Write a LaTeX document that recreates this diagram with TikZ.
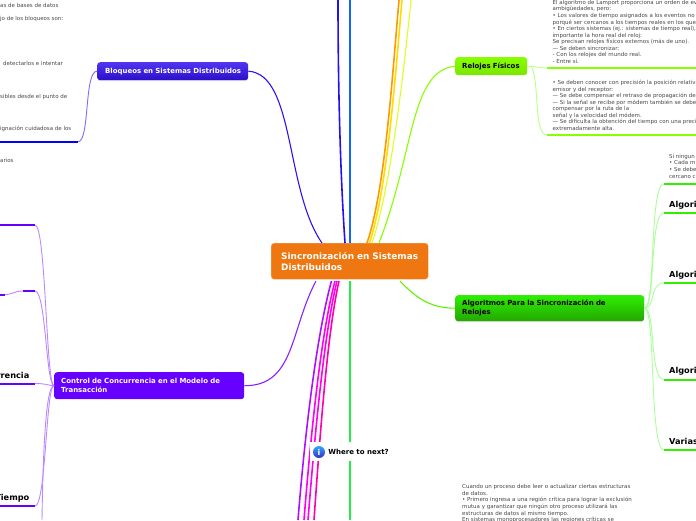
\documentclass[tikz,border=0pt]{standalone}
\usepackage{fontspec}
\setmainfont{DejaVu Sans}
\usetikzlibrary{calc,shadows}
\definecolor{naranja}{HTML}{EE7711}
\definecolor{azulb}{HTML}{3311EE}
\definecolor{moradoc}{HTML}{6600FF}
\definecolor{verdeb}{HTML}{88FF00}
\definecolor{verdea}{HTML}{33EE00}
\definecolor{cazul}{HTML}{2211EE}
\definecolor{ccielo}{HTML}{1166FF}
\definecolor{cnaranja}{HTML}{FF9900}
\definecolor{camarillo}{HTML}{FFDD00}
\definecolor{climon}{HTML}{DDFF22}
\definecolor{cmorado}{HTML}{8822FF}
\definecolor{cviola}{HTML}{AA11FF}
\definecolor{cmagenta}{HTML}{FF00EE}
\definecolor{crosa}{HTML}{FF00AA}
\definecolor{cverde}{HTML}{22EE44}
\definecolor{trelojes}{HTML}{BBFF88}
\definecolor{talgo}{HTML}{AAFF99}
\definecolor{tcontrol}{HTML}{BB88FF}
\definecolor{tbloqueos}{HTML}{8866FF}
\begin{document}
\begin{tikzpicture}[x=1pt,y=-1pt]
	\tikzstyle{topic} = [rounded corners=3pt, anchor=north west, align=left, inner sep=0pt, font=\fontsize{6.95}{9}\selectfont\bfseries]
	\tikzstyle{body} = [anchor=north west, align=left, inner sep=0pt, text=black!72, font=\fontsize{5.5}{6.55}\selectfont]
	\tikzstyle{head} = [inner sep=0pt, font=\fontsize{8.2}{9}\selectfont\bfseries]
	\tikzstyle{twig} = [line width=.9pt]
	\tikzstyle{branch} = [line width=1.1pt]
	\tikzstyle{leaf} = [line width=2pt]
	\tikzstyle{trunk} = [line width=1.6pt]
	\useasboundingbox (0,0) rectangle (696,520);
	\clip (0,0) rectangle (696,520);
	\node[topic, minimum width=157pt, minimum height=36pt, fill=naranja, draw=naranja!60, text=white, font=\fontsize{8.9}{11}\selectfont\bfseries, text width=137pt, inner xsep=10pt] (centro) at (271,243) {Sincronización en Sistemas\\Distribuidos};
	\node[topic, minimum width=151pt, minimum height=18pt, top color=azulb!85!white, bottom color=azulb!85!black, drop shadow={opacity=.25,shadow xshift=0pt,shadow yshift=-1pt}, text=white, text width=143pt, inner xsep=4pt, xshift=0pt] (bloqueos) at (97,62) {\hspace*{4pt}Bloqueos en Sistemas Distribuidos};
	\node[topic, minimum width=72pt, minimum height=18pt, top color=verdeb, bottom color=verdeb!90!black, text=black, text width=58pt, inner xsep=7pt] (relojes) at (455,57) {Relojes Físicos};
	\node[topic, minimum width=189pt, minimum height=26pt, top color=verdea!90!green, bottom color=verdea!70!black, drop shadow={opacity=.25,shadow xshift=0pt,shadow yshift=-1pt}, text=black, text width=175pt, inner xsep=7pt] (algoritmos) at (455,295) {Algoritmos Para la Sincronización de\\Relojes};
	\node[topic, minimum width=190pt, minimum height=27pt, fill=moradoc, text=white, text width=176pt, inner xsep=7pt] (control) at (54,372) {Control de Concurrencia en el Modelo de\\Transacción};
	\coordinate (N1) at (345,243);
	\coordinate (N2) at (350,243);
	\coordinate (N3) at (367,243);
	\coordinate (N4) at (369.5,243);
	\coordinate (N5) at (372,243);
	\coordinate (N6) at (379,243);
	\coordinate (N7) at (322,243);
	\coordinate (T1) at (338,0);
	\coordinate (T2) at (350,0);
	\coordinate (T3) at (399,0);
	\coordinate (T4) at (402,0);
	\coordinate (T5) at (411,0);
	\coordinate (S1) at (316,281);
	\coordinate (S2) at (331.5,281);
	\coordinate (S3) at (335,281);
	\coordinate (S4) at (337,281);
	\coordinate (S5) at (339,281);
	\coordinate (S6) at (350,281);
	\coordinate (S7) at (400,281);
	\coordinate (B2) at (298,520);
	\coordinate (B3) at (304,520);
	\coordinate (B4) at (308,520);
	\coordinate (B5) at (314,520);
	\coordinate (B6) at (350,520);
	\draw[trunk, cazul] (N1) .. controls (340,170) and (338,80) .. (T1);
	\draw[trunk, ccielo] (N2) -- (T2);
	\draw[trunk, cnaranja] (N3) .. controls (385,190) and (392,80) .. (T3);
	\draw[trunk, camarillo] (N4) .. controls (387,190) and (395,80) .. (T4);
	\draw[branch, climon] (N5) .. controls (390,190) and (403,80) .. (T5);
	\draw[branch, verdeb] (N6) .. controls (415,150) and (410,71) .. (relojes.west);
	\draw[branch, azulb] (N7) .. controls (285,190) and (295,74) .. (bloqueos.east);
	\draw[branch, cmorado] (S1) .. controls (290,330) and (295,386) .. (control.east);
	\draw[trunk, cviola] (S2) .. controls (318,330) and (306,420) .. (B2);
	\draw[trunk, cmagenta] (S3) .. controls (322,330) and (312,420) .. (B3);
	\draw[trunk, cmagenta] (S4) .. controls (325,330) and (316,420) .. (B4);
	\draw[trunk, crosa] (S5) .. controls (328,330) and (321,420) .. (B5);
	\draw[trunk, cverde] (S6) -- (B6);
	\draw[branch, verdea!70!lime] (S7) .. controls (418,300) and (432,308) .. (algoritmos.west);
	\coordinate (R0) at (531,66);
	\coordinate (R1) at (547,68);
	\coordinate (R2) at (696,68);
	\coordinate (R3) at (547,135);
	\coordinate (R4) at (696,135);
	\draw[twig, trelojes] (relojes.east) .. controls (534,66) and (540,68) .. (R1);
	\draw[twig, trelojes] (R0) .. controls (540,80) and (533,135) .. (R3);
	\draw[leaf, verdeb] (R1) -- (R2);
	\draw[leaf, verdeb] (R3) -- (R4);
	\foreach \y/\n in {184/a,213/b,283/c,379.5/d,450/e} {
		\coordinate (A\n) at (664,\y);
		\coordinate (Z\n) at (696,\y);
		\draw[twig, talgo] (algoritmos.east) .. controls (656,308) and (649,\y) .. (A\n);
		\draw[leaf, verdea] (A\n) -- (Z\n);
	}
	\coordinate (L0) at (0,141.7);
	\coordinate (L1) at (78,141.7);
	\draw[twig, tbloqueos] (bloqueos.west) .. controls (84,71) and (90,141.7) .. (L1);
	\draw[leaf, blue] (L0) -- (L1);
	\foreach \y/\n in {225/a,291/b,383.5/c,506/d} {
		\coordinate (C\n) at (35,\y);
		\draw[twig, tcontrol] (control.west) .. controls (46,385) and (46,\y) .. (C\n);
	}
	\coordinate (Cz) at (42,520);
	\draw[twig, tcontrol] (control.west) .. controls (46,385) and (43,450) .. (Cz);
	\coordinate (D0) at (0,225);
	\draw[leaf, moradoc] (D0) -- (Ca);
	\coordinate (D1) at (23,291);
	\draw[leaf, moradoc] (D1) -- (Cb);
	\coordinate (D2) at (5,294.5);
	\coordinate (D3) at (0,294.5);
	\draw[twig, tcontrol] (D2) .. controls (13,294.5) and (14,291) .. (D1);
	\draw[leaf, moradoc] (D3) -- (D2);
	\coordinate (D4) at (0,383.5);
	\draw[leaf, moradoc] (D4) -- (Cc);
	\coordinate (D5) at (0,506);
	\draw[leaf, moradoc] (D5) -- (Cd);
	\node[fill=white, minimum width=82pt, minimum height=19pt, inner sep=0pt] (halo) at (351,451.5) {};
	\node[circle, inner sep=0pt, minimum size=12pt, top color=blue!45!cyan!80!white, bottom color=blue!70!black!80!white, text=white, font=\fontsize{8}{8}\selectfont\bfseries] (info) at (319,452) {i};
	\node[anchor=west, inner sep=0pt, font=\fontsize{7}{8}\selectfont\bfseries] (next) at (info.east) [xshift=3pt] {Where to next?};
	\node[body] (t1) at (0,3.2) {as de bases de datos};
	\node[body] (t2) at (0,16.2) {jo de los bloqueos son:};
	\node[body] (t3) at (3,60.7) {detectarlos e intentar};
	\node[body] (t4) at (0,93.7) {sibles desde el punto de};
	\node[body] (t5) at (0,125.7) {ignación cuidadosa de los};
	\node[body] (t6) at (0,157.7) {arios};
	\node[body] (t7) at (552.5,0) {El algoritmo de Lamport proporciona un orden de ev\\ambigüedades, pero:\\• Los valores de tiempo asignados a los eventos no\\porqué ser cercanos a los tiempos reales en los que\\• En ciertos sistemas (ej.: sistemas de tiempo real),\\importante la hora real del reloj:\\Se precisan relojes físicos externos (más de uno).\\— Se deben sincronizar:\\- Con los relojes del mundo real.\\- Entre sí.};
	\node[body] (t8) at (552.5,80) {• Se deben conocer con precisión la posición relativa\\emisor y del receptor:\\— Se debe compensar el retraso de propagación de\\— Si la señal se recibe por módem también se debe\\compensar por la ruta de la\\señal y la velocidad del módem.\\— Se dificulta la obtención del tiempo con una precis\\extremadamente alta.};
	\node[body] (t9) at (669,154) {Si ningun\\• Cada m\\• Se debe\\cercano c};
	\node[body] (t10) at (462,484.5) {Cuando un proceso debe leer o actualizar ciertas estructuras\\de datos.\\• Primero ingresa a una región crítica para lograr la exclusión\\mutua y garantizar que ningún otro proceso utilizará las\\estructuras de datos al mismo tiempo.\\En sistemas monoprocesadores las regiones críticas se};
	\node[head, anchor=west] (h1) at (669,205) {Algori};
	\node[head, anchor=west] (h2) at (669,275) {Algori};
	\node[head, anchor=west] (h3) at (669,371) {Algori};
	\node[head, anchor=west] (h4) at (669,441.5) {Varias};
	\node[head, anchor=east] (h5) at (29.5,375) {rrencia};
	\node[head, anchor=east] (h6) at (29.5,498) {Tiempo};
\end{tikzpicture}
\end{document}
